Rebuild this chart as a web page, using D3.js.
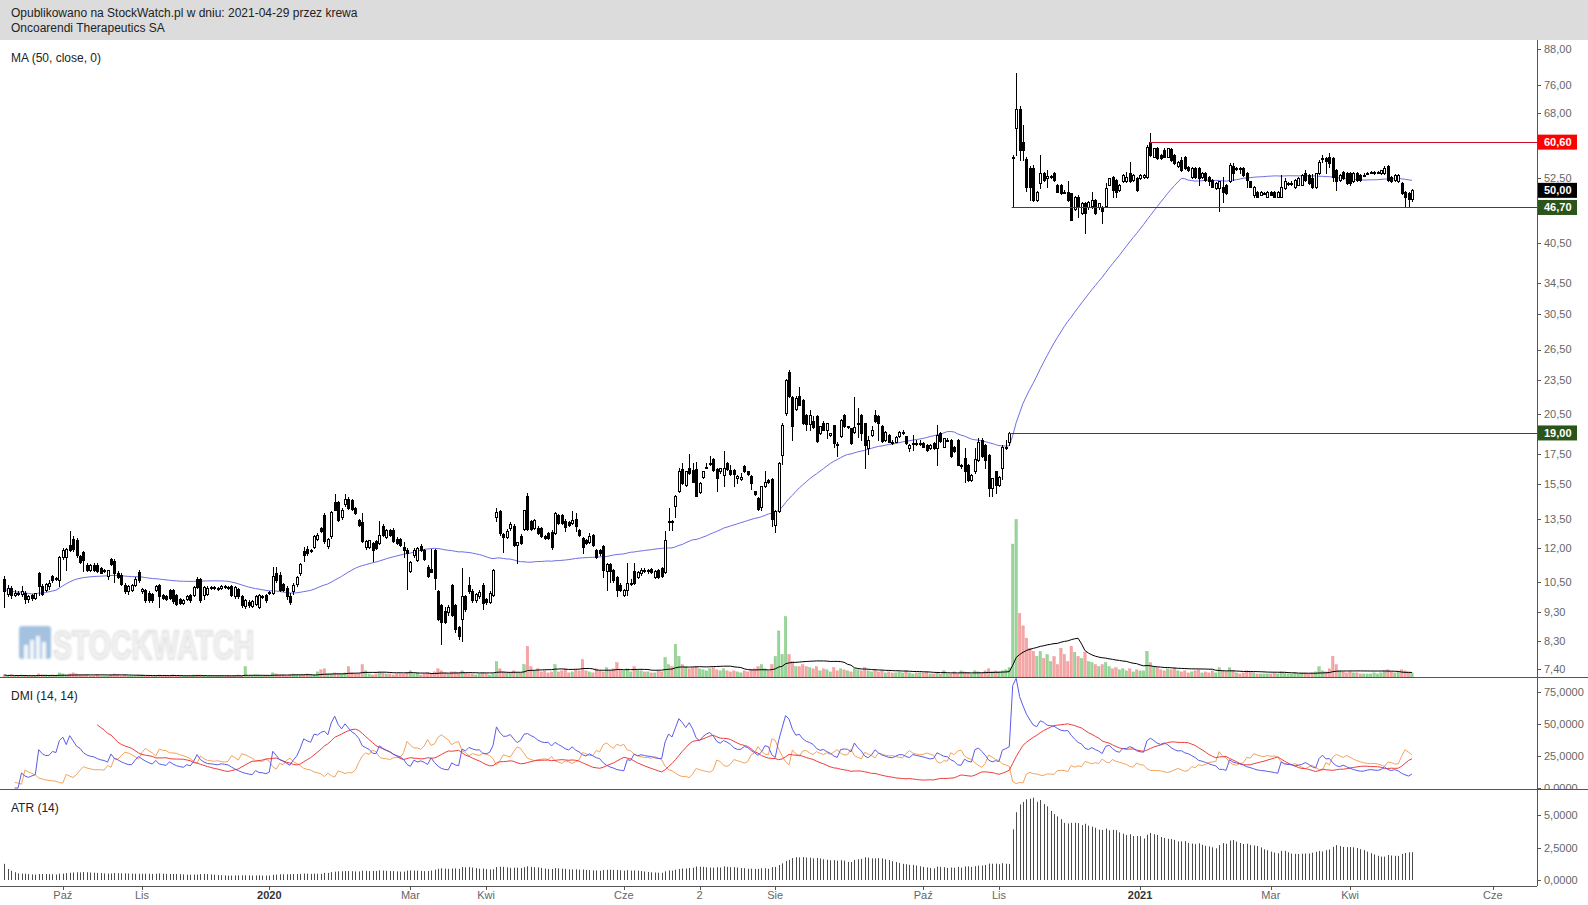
<!DOCTYPE html>
<html lang="pl">
<head>
<meta charset="utf-8">
<title>Oncoarendi Therapeutics SA</title>
<script src="https://cdn.jsdelivr.net/npm/d3@7"></script>
<style>
html,body{margin:0;padding:0;background:#fff;}
svg{display:block;}
text{font-family:"Liberation Sans",Arial,Helvetica,sans-serif;}
</style>
</head>
<body>
<svg id="chart" width="1588" height="905"></svg>
<script>
// ---------------- DATA ----------------
const headerLine1 = "Opublikowano na StockWatch.pl w dniu: 2021-04-29 przez krewa";
const headerLine2 = "Oncoarendi Therapeutics SA";
const panelTitles = ["MA (50, close, 0)", "DMI (14, 14)", "ATR (14)"];

// daily candles [open, high, low, close], one per trading day from 2019-09-06
const candles2019 = [
// Sep
[10.6,10.75,9.5,10.1],[10.0,10.35,9.9,10.25],[10.25,10.3,9.85,9.95],[9.95,10.15,9.9,10.05],[10.05,10.1,9.95,10.0],[10.0,10.3,9.9,10.1],[10.05,10.1,9.65,9.8],[9.8,9.95,9.7,9.9],[9.95,10.0,9.75,9.85],[9.85,10.05,9.8,10.05],[10.85,10.9,9.95,10.3],[10.3,10.4,9.95,10.0],[10.15,10.45,10.1,10.4],[10.3,10.55,10.2,10.45],[10.75,10.8,10.5,10.55],[10.6,10.7,10.55,10.65],[10.55,11.65,10.3,11.6],
// Oct
[11.6,12.0,11.5,11.9],[11.6,12.0,11.0,11.95],[12.15,12.85,11.85,11.9],[12.45,12.6,11.85,11.95],[12.4,12.5,11.6,11.7],[11.65,11.7,11.3,11.35],[11.8,11.85,10.95,11.45],[11.2,11.3,10.95,10.98],[10.98,11.25,10.95,11.2],[11.2,11.3,10.95,11.0],[11.2,11.3,10.9,10.95],[11.1,11.15,10.85,10.88],[10.95,11.05,10.9,11.0],[10.72,11.0,10.6,10.98],[11.5,11.55,11.2,11.25],[11.4,11.5,10.5,10.85],[10.85,10.95,10.65,10.7],[10.8,10.85,10.35,10.4],[10.35,10.45,10.05,10.1],[10.1,10.35,10.0,10.3],[10.15,10.4,10.1,10.35],[10.35,10.7,10.3,10.62],[10.9,11.0,10.5,10.56],
// Nov
[10.1,10.25,10.05,10.2],[10.15,10.2,9.7,9.75],[10.05,10.1,9.7,9.75],[10.0,10.05,9.7,9.75],[10.15,10.35,10.1,10.3],[10.35,10.4,9.5,9.9],[9.95,10.0,9.8,9.85],[9.9,9.95,9.75,9.8],[10.15,10.2,9.8,9.85],[10.15,10.2,9.65,9.72],[9.95,10.0,9.55,9.6],[9.8,9.85,9.6,9.65],[9.65,9.8,9.6,9.75],[9.8,9.95,9.75,9.9],[9.95,10.0,9.7,9.75],[9.95,10.3,9.9,10.28],[10.6,10.7,10.25,10.28],[10.6,10.65,9.7,9.75],[9.95,10.3,9.8,10.28],
// Dec
[10.0,10.3,9.95,10.25],[10.25,10.3,10.2,10.28],[10.28,10.3,10.2,10.22],[10.22,10.28,10.15,10.25],[10.25,10.35,10.2,10.3],[10.3,10.35,10.25,10.28],[10.28,10.32,10.2,10.25],[10.3,10.35,9.9,9.95],[9.9,10.3,9.85,10.28],[10.2,10.25,9.85,9.9],[9.9,9.95,9.5,9.55],[9.52,9.8,9.45,9.75],[9.7,9.75,9.5,9.55],[9.52,9.75,9.5,9.72],[9.6,9.95,9.55,9.9],[9.5,10.0,9.45,9.95],[9.9,9.95,9.85,9.9],[9.95,10.0,9.7,9.75]
];
const candles2020 = [
// Jan
[10.05,10.1,10.0,10.08],[10.05,11.15,10.0,10.75],[10.85,11.15,10.5,10.55],[10.8,10.9,10.1,10.15],[10.4,10.45,10.1,10.15],[10.25,10.3,9.8,9.9],[9.9,10.05,9.6,9.7],[10.1,10.45,10.0,10.35],[10.4,10.75,10.3,10.7],[10.85,11.3,10.8,11.25],[11.85,12.05,11.4,11.7],[11.95,12.1,11.7,11.75],[11.85,11.95,11.8,11.9],[12.05,12.65,12.0,12.58],[12.45,12.75,12.4,12.65],[13.0,13.05,12.8,12.85],[13.7,13.8,12.25,12.35],[12.1,12.5,12.0,12.45],[12.6,13.9,12.5,13.85],[14.45,14.9,13.95,14.0],[14.45,14.5,13.4,13.45],
// Feb
[13.6,14.1,13.5,14.0],[14.3,14.9,14.2,14.6],[14.6,14.7,14.05,14.1],[14.55,14.6,14.0,14.05],[14.1,14.15,13.75,13.8],[13.45,13.5,13.1,13.15],[13.3,13.8,12.3,12.35],[12.05,12.4,11.95,12.35],[12.05,12.4,12.0,12.38],[12.25,12.3,11.4,11.9],[12.35,12.4,11.95,12.0],[12.25,13.4,12.2,12.65],[13.1,13.2,12.6,12.65],[12.55,12.95,12.5,12.9],[12.9,12.95,12.6,12.65],[12.9,13.0,12.3,12.35],[12.45,12.55,12.2,12.25],[12.45,12.5,12.1,12.15],[12.05,12.3,11.6,11.9],[11.9,12.0,10.2,11.75],
// Mar
[10.95,11.4,10.9,11.35],[11.7,12.0,11.6,11.9],[11.45,12.05,11.4,12.0],[12.1,12.2,11.85,11.9],[11.9,11.95,11.45,11.5],[11.15,11.2,10.7,10.72],[11.05,11.95,10.9,10.92],[11.9,11.95,10.2,10.65],[10.1,10.15,9.0,9.05],[9.55,9.6,8.2,8.95],[9.35,9.5,8.9,8.95],[9.3,9.55,9.2,9.5],[10.35,10.4,9.15,9.2],[9.55,9.6,8.6,8.7],[8.75,8.8,8.35,8.45],[9.05,11.1,8.3,9.9],[9.9,9.95,9.35,9.4],[10.35,10.7,10.05,10.1],[10.1,10.2,9.7,9.75],[9.75,10.05,9.7,10.0],[9.9,10.15,9.85,10.08],[10.35,10.45,9.4,9.65],
// Apr
[9.8,9.85,9.6,9.68],[9.7,10.1,9.65,10.05],[9.95,11.05,9.9,11.0],[13.6,14.1,13.4,13.85],[13.9,14.0,12.65,12.75],[12.7,12.75,11.8,12.55],[12.55,12.95,12.5,12.85],[13.0,13.3,12.9,13.2],[13.1,13.2,12.1,12.15],[12.15,12.3,11.3,12.3],[12.6,12.7,12.2,12.25],[12.95,14.0,12.9,13.95],[14.75,14.95,12.9,12.95],[13.4,13.45,12.9,12.95],[13.0,13.5,12.95,13.45],[13.0,13.1,12.7,12.75],[13.0,13.05,12.55,12.6],[12.6,12.65,12.45,12.5],[12.75,12.8,12.45,12.5],[12.8,12.9,11.95,12.05],
// May
[12.75,13.85,12.7,13.8],[13.7,13.75,13.2,13.25],[13.7,13.75,13.2,13.26],[13.35,13.5,12.85,13.05],[13.3,13.4,13.1,13.15],[13.25,13.9,13.2,13.45],[13.5,13.8,12.85,13.1],[12.9,12.95,12.6,12.65],[12.5,12.55,11.75,12.05],[12.4,12.45,12.2,12.25],[12.3,12.75,12.25,12.6],[12.65,12.7,12.1,12.15],[11.9,11.95,11.55,11.6],[11.9,11.95,11.7,11.75],[12.1,12.15,10.7,11.0],[10.95,11.3,10.15,11.25],[11.25,11.3,10.5,10.95],[11.0,11.05,10.5,10.55],[10.7,10.75,9.9,10.15],[10.38,10.45,10.1,10.15],
// Jun
[9.95,10.2,9.9,10.15],[10.15,11.3,9.95,10.45],[10.45,10.6,10.35,10.45],[10.95,11.3,10.4,10.45],[10.7,10.95,10.65,10.9],[10.85,11.1,10.8,11.0],[11.0,11.1,10.9,10.98],[10.98,11.05,10.85,11.0],[11.05,11.1,10.85,10.9],[10.7,11.0,10.65,10.95],[11.0,11.05,10.65,10.7],[11.08,11.15,10.7,10.72],[10.9,12.85,10.85,12.4],[13.35,14.1,12.9,13.4],[13.35,13.45,12.9,13.3],[14.2,14.85,13.6,14.8],[15.05,16.5,15.0,16.3],[16.45,16.85,15.5,15.55],[15.45,16.35,15.4,16.3],[16.5,17.5,16.1,16.2],[16.4,16.85,15.6,15.65],
// Jul
[16.45,16.95,14.75,14.75],[15.0,15.6,14.95,15.55],[15.95,16.35,15.9,16.3],[16.6,16.85,16.5,16.6],[16.8,17.3,16.7,16.85],[17.1,17.2,16.35,16.4],[16.45,16.5,15.1,15.85],[16.3,16.55,16.2,16.5],[16.05,17.65,15.4,16.5],[16.85,16.9,16.4,16.45],[16.4,16.7,16.05,16.1],[16.4,16.45,15.35,16.1],[15.85,16.05,15.55,16.0],[15.8,16.2,15.75,15.95],[16.65,16.7,16.25,16.3],[16.3,16.35,16.05,16.1],[16.0,16.05,15.2,15.55],[15.05,15.1,14.85,14.9],[14.65,14.7,14.0,14.05],[14.15,15.4,13.95,15.35],[15.35,16.3,15.3,15.65],[15.75,15.8,15.55,15.6],[15.8,15.85,13.1,13.5],
// Aug
[13.15,14.0,12.8,13.9],[13.9,16.9,13.85,16.85],[17.4,19.75,16.8,19.6],[20.55,23.6,20.4,23.5],[24.25,24.45,21.9,22.0],[21.9,22.0,18.5,19.5],[20.9,22.0,20.8,21.8],[22.0,22.85,21.2,21.25],[21.7,21.75,19.7,19.75],[20.4,20.5,19.25,19.7],[19.7,20.85,19.25,20.4],[19.9,20.3,19.4,19.45],[20.3,20.45,18.3,18.4],[19.0,19.55,18.95,19.5],[19.75,19.9,19.2,19.25],[19.25,19.8,18.6,19.75],[18.85,19.0,18.8,18.98],[19.6,19.65,18.0,18.25],[18.15,18.3,17.3,18.1],[18.75,20.1,18.7,20.0],[20.4,20.5,19.45,19.5],
// Sep
[19.45,19.55,19.4,19.5],[19.35,19.4,18.2,18.25],[19.1,21.95,19.0,19.45],[19.7,21.0,18.7,19.75],[20.4,20.5,18.5,19.0],[19.75,19.8,16.5,18.1],[17.9,18.75,17.5,18.5],[18.85,19.5,18.8,19.2],[20.4,20.85,19.85,19.9],[20.3,20.4,18.5,19.75],[19.5,19.6,18.3,18.4],[18.5,19.15,18.4,19.1],[18.85,18.9,18.3,18.35],[18.35,18.45,18.2,18.25],[18.35,18.8,18.3,18.7],[18.75,19.15,18.7,19.1],[19.0,19.2,18.95,19.1],[18.75,18.8,18.2,18.25],[17.9,18.2,17.65,18.1],[18.2,18.85,17.75,18.25],[18.25,18.5,18.1,18.2],[18.2,18.45,18.1,18.25],
// Oct
[18.25,18.3,17.95,18.0],[18.1,18.15,17.7,17.75],[17.9,18.15,17.85,18.1],[18.25,18.3,17.85,17.9],[17.9,19.6,16.75,18.85],[19.0,19.1,18.35,18.4],[18.0,18.65,17.95,18.6],[18.5,18.6,18.4,18.5],[18.5,18.55,17.25,17.3],[18.0,18.05,17.6,17.65],[18.5,18.55,16.7,16.75],[16.65,16.8,16.55,16.75],[17.2,17.9,15.65,16.3],[16.75,16.8,15.7,15.75],[15.75,16.1,15.7,16.05],[16.3,17.9,16.2,17.1],[17.05,18.6,17.0,18.35],[18.5,18.6,17.25,17.3],[18.1,18.2,16.5,17.05],[17.4,17.45,14.8,15.25],[15.25,15.9,14.8,15.85],[16.3,16.35,14.95,15.45],
// Nov
[15.45,16.0,15.4,15.95],[16.5,18.1,15.8,17.95],[18.0,18.5,17.8,18.0],[18.3,19.1,18.1,19.0],[56.8,57.6,46.7,57.2],[64.0,79.7,57.6,69.1],[69.1,70.0,56.4,58.7],[60.7,65.0,56.4,58.7],[56.6,57.0,49.8,50.7],[54.6,55.0,48.1,50.7],[54.6,55.3,48.0,48.1],[48.1,49.9,47.9,49.7],[51.4,57.6,50.4,53.5],[53.5,53.8,52.0,52.1],[52.5,54.2,50.7,52.9],[52.8,53.2,52.5,52.9],[53.5,53.9,52.0,52.2],[51.1,51.3,49.6,49.7],[51.0,51.2,49.3,49.4],[49.7,50.0,49.5,49.6],
// Dec
[49.7,51.8,48.0,48.1],[49.4,49.5,44.4,44.4],[46.4,48.9,46.3,48.75],[48.75,49.1,45.0,47.0],[45.6,47.7,45.5,47.6],[47.5,47.8,42.1,45.6],[46.7,47.9,46.5,47.8],[47.0,49.7,46.6,48.1],[48.1,48.4,45.5,45.6],[46.7,47.6,46.5,47.5],[46.7,46.9,43.9,46.1],[47.0,51.4,46.9,50.4],[51.1,52.6,51.0,52.5],[52.8,53.0,48.75,50.0],[52.1,52.3,48.75,49.7],[50.0,51.2,49.8,51.1],[51.8,53.3,51.6,53.2],[51.8,53.9,51.7,52.8],[53.5,56.0,51.7,51.8],[52.1,53.4,52.0,53.2]
];
const candles2021 = [
// Jan
[52.5,52.7,49.9,50.0],[52.5,53.3,52.3,53.2],[52.8,53.4,52.5,53.2],[52.8,59.8,52.5,59.5],[60.6,62.8,57.4,57.6],[57.2,59.3,57.0,59.1],[59.1,59.5,56.7,56.8],[57.6,57.8,56.6,56.8],[58.7,59.1,57.0,57.2],[57.2,59.3,57.0,59.1],[58.9,59.2,56.3,56.4],[57.6,57.8,55.5,55.7],[55.0,56.2,54.8,56.0],[56.4,57.2,54.1,54.2],[57.2,57.4,54.5,54.6],[54.95,55.1,54.1,54.2],[52.8,54.8,52.6,54.6],[54.6,54.8,52.6,52.8],[54.6,54.8,51.1,52.5],
// Feb
[52.8,53.7,52.6,53.5],[53.5,53.7,52.0,52.1],[52.8,53.0,51.1,51.8],[52.1,52.3,50.6,50.7],[50.4,51.6,50.2,51.4],[50.4,52.0,46.1,51.8],[50.7,52.7,47.8,49.7],[51.1,51.3,49.2,49.4],[51.8,55.7,51.6,55.3],[55.1,55.7,52.1,53.5],[54.6,54.9,54.3,54.6],[54.6,54.95,53.5,54.5],[54.6,54.8,53.0,53.2],[53.5,53.7,50.7,52.1],[51.8,52.0,50.6,50.7],[49.1,50.9,48.75,50.7],[49.7,49.9,48.6,48.75],[49.1,49.9,49.0,49.7],[49.4,49.6,49.2,49.4],[48.75,49.9,48.6,49.7],
// Mar
[49.7,49.8,49.0,49.1],[49.7,49.9,48.6,48.75],[48.75,49.9,48.6,49.7],[48.75,53.2,48.6,50.7],[50.4,52.5,50.2,51.8],[51.4,51.7,51.1,51.4],[51.4,51.8,51.1,51.5],[50.7,52.3,50.5,52.1],[51.1,52.8,51.0,52.5],[51.1,53.4,51.0,53.2],[53.5,54.2,52.0,52.1],[53.2,53.3,51.3,51.4],[52.5,53.4,50.4,50.7],[50.7,53.6,50.5,53.5],[53.5,56.4,53.3,56.0],[56.8,57.6,56.0,56.8],[56.8,57.2,53.5,56.2],[57.2,58.0,54.95,55.7],[56.8,57.0,51.8,52.8],[54.2,54.4,50.0,51.8],[52.1,53.4,52.0,53.2],[53.9,54.1,52.4,52.5],[53.5,53.7,51.3,51.4],
// Apr
[53.5,53.7,51.1,51.4],[51.8,53.7,51.6,53.5],[53.5,53.7,52.0,52.1],[53.2,53.3,52.0,52.1],[53.2,53.5,52.9,53.2],[53.5,53.8,53.3,53.5],[53.7,54.0,53.5,53.8],[53.5,54.0,53.3,53.9],[53.7,54.0,53.5,53.7],[53.5,54.3,53.3,54.2],[53.5,55.1,53.3,54.6],[55.1,55.3,51.8,52.1],[52.8,53.0,51.6,51.8],[52.1,53.4,52.0,53.2],[51.8,53.4,51.6,53.2],[51.4,51.6,49.2,49.4],[49.7,49.9,47.0,48.75],[49.4,49.6,46.7,48.4],[48.4,50.3,48.0,50.0]
];

// daily volume (relative units), same days as the candles
const volume2019 = [
2,1,2,1,1,2,1,1,1,1,3,2,2,1,2,1,4,
3,2,3,4,3,2,2,2,1,1,2,1,1,1,2,3,2,1,2,1,1,1,2,
2,1,1,1,1,2,1,1,1,2,1,1,1,1,1,2,2,2,1,
1,1,1,1,1,1,1,1,1,2,1,10,1,1,2,1,1,1
];
const volume2020 = [
1,4,3,2,2,1,2,3,2,2,2,3,2,2,5,7,8,3,3,4,3,
3,4,10,4,3,3,12,6,3,2,3,5,4,3,3,2,3,3,3,4,
6,3,4,2,3,4,3,5,8,6,4,3,5,5,4,6,4,3,3,2,3,4,
3,2,3,15,8,5,4,4,6,4,4,12,30,10,6,8,5,6,4,5,
12,5,6,8,4,5,7,6,17,6,5,4,8,6,5,9,6,8,14,7,
6,8,5,10,7,6,5,5,4,4,6,5,19,12,10,32,20,12,10,8,9,
10,8,7,6,8,9,7,6,8,6,5,6,5,4,6,5,7,8,10,12,8,6,12,
20,45,22,59,22,15,10,10,12,10,9,8,10,6,8,7,5,9,6,8,7,
6,5,8,7,6,9,6,5,7,5,6,4,5,4,4,5,4,6,4,3,4,4,
4,5,3,3,4,3,6,3,3,5,3,6,5,4,3,6,5,4,6,8,5,6,
5,6,7,9,130,154,62,50,38,28,25,20,25,18,22,15,20,12,28,22,
15,30,24,20,18,24,15,14,12,10,12,14,10,8,9,7,8,6,8,5
];
const volume2021 = [
7,6,6,25,14,10,9,7,6,8,7,9,6,5,6,4,5,6,7,
4,5,4,6,4,9,6,5,9,6,4,3,4,6,5,4,3,3,3,3,
3,4,3,5,4,3,3,4,3,4,4,3,4,5,10,6,5,8,20,12,6,5,4,
5,4,4,3,3,3,3,4,3,4,6,7,5,4,5,7,6,5,4
];

const priceTicks = [88, 76, 68, 52.5, 40.5, 34.5, 30.5, 26.5, 23.5, 20.5, 17.5, 15.5, 13.5, 12, 10.5, 9.3, 8.3, 7.4];
const dmiTicks = [0, 25, 50, 75];
const atrTicks = [0, 2.5, 5];
// x-axis labels, positioned by trading-day index
const timeTicks = [
  {at: 17, label: "Paź"}, {at: 40, label: "Lis"}, {at: 77, label: "2020", year: true},
  {at: 118, label: "Mar"}, {at: 140, label: "Kwi"}, {at: 180, label: "Cze"},
  {at: 202, label: "2"}, {at: 224, label: "Sie"}, {at: 267, label: "Paź"},
  {at: 289, label: "Lis"}, {at: 330, label: "2021", year: true}, {at: 368, label: "Mar"},
  {at: 391, label: "Kwi"}, {at: 432.5, label: "Cze"}
];
// drawn horizontal levels: value and the trading-day index where they start
const levels = [
  {value: 60.6, from: 333, kind: "resistance"},
  {value: 46.7, from: 293, kind: "support"},
  {value: 19.0, from: 292, kind: "support"}
];
const lastClose = 50.0;

// ---------------- LAYOUT & STYLE ----------------
const W = 1588, H = 905;
const LAY = {header: 40, axisX: 1537, mainTop: 40, mainBottom: 677.5, dmiBottom: 789.5, xAxisY: 886, x0: 4.3, step: 3.4417};
const COL = {
  header: "#dcdcdc", text: "#222", axis: "#555", tick: "#666",
  ma: "#6d6de3", plusDI: "#5b5be8", minusDI: "#f2a35e", adx: "#ee3b3b",
  volUp: "#9ad59a", volUpStroke: "#74c274", volDown: "#f5a6a6", volDownStroke: "#ee8787", volMa: "#000",
  resistance: "#c8102e", support: "#2b541a", resistanceBadge: "#ff0000", supportBadge: "#2b541a", lastBadge: "#000"
};

// ---------------- PREP ----------------
const candles = candles2019.concat(candles2020, candles2021).map((d, i) => ({i, o: d[0], h: d[1], l: d[2], c: d[3]}));
const volume = volume2019.concat(volume2020, volume2021);
const n = candles.length;
const P = 14;

function sma(vals, p) { const out = []; let s = 0; for (let i = 0; i < vals.length; i++) { s += vals[i]; if (i >= p) s -= vals[i - p]; out.push(s / Math.min(i + 1, p)); } return out; }
// Wilder smoothing; undefined before `start`, running mean for the first `p` values
function rma(vals, p, start = 0) {
  const out = []; let a = 0;
  for (let i = 0; i < vals.length; i++) {
    if (i < start) { out.push(undefined); continue; }
    const k = i - start;
    a = k < p ? (a * k + vals[i]) / (k + 1) : (a * (p - 1) + vals[i]) / p;
    out.push(a);
  }
  return out;
}

const ma50 = sma(candles.map(d => d.c), 50);
const volMa = sma(volume, 20);
const tr = [], pdm = [], mdm = [];
candles.forEach((d, i) => {
  if (i === 0) { tr.push(d.h - d.l); pdm.push(0); mdm.push(0); return; }
  const p = candles[i - 1];
  tr.push(Math.max(d.h - d.l, Math.abs(d.h - p.c), Math.abs(d.l - p.c)));
  const up = d.h - p.h, dn = p.l - d.l;
  pdm.push(up > dn && up > 0 ? up : 0);
  mdm.push(dn > up && dn > 0 ? dn : 0);
});
const atr = rma(tr, P);
const trS = rma(tr, P, 1), sp = rma(pdm, P, 1), sm = rma(mdm, P, 1);
const diStart = 3;
const pdi = sp.map((v, i) => i < diStart ? undefined : 100 * v / trS[i]);
const mdi = sm.map((v, i) => i < diStart ? undefined : 100 * v / trS[i]);
const dx = pdi.map((v, i) => { if (v === undefined) return 0; const s = v + mdi[i]; return s ? 100 * Math.abs(v - mdi[i]) / s : 0; });
// standard ADX: first value = mean of the first P full-period DX values
const adx = dx.map(() => undefined);
{
  const s0 = P; let a = 0;
  for (let i = s0; i < n; i++) {
    const k = i - s0;
    if (k < P) { a = (a * k + dx[i]) / (k + 1); if (k === P - 1) adx[i] = a; }
    else { a = (a * (P - 1) + dx[i]) / P; adx[i] = a; }
  }
}

// ---------------- SCALES ----------------
const x = d3.scaleLinear().domain([0, n - 1]).range([LAY.x0, LAY.x0 + (n - 1) * LAY.step]);
const y = d3.scaleLog().domain([7.4, 88]).range([669.4, 48.6]);
const yVol = d3.scaleLinear().domain([0, d3.max(volume)]).range([677, 519.5]);
const yDmi = d3.scaleLinear().domain([0, 75]).range([788, 691.7]);
const yAtr = d3.scaleLinear().domain([0, 5]).range([880, 815.3]);

const fmt2 = v => d3.format(".2f")(v).replace(".", ",");
const fmt4 = v => d3.format(".4f")(v).replace(".", ",");

// ---------------- DRAW ----------------
const svg = d3.select("#chart");
const defs = svg.append("defs");
defs.append("clipPath").attr("id", "clipMain").append("rect").attr("x", 0).attr("y", LAY.mainTop).attr("width", LAY.axisX).attr("height", LAY.mainBottom - LAY.mainTop);
defs.append("clipPath").attr("id", "clipDmi").append("rect").attr("x", 0).attr("y", LAY.mainBottom).attr("width", LAY.axisX).attr("height", LAY.dmiBottom - LAY.mainBottom);
defs.append("clipPath").attr("id", "clipDmiLabels").append("rect").attr("x", LAY.axisX).attr("y", LAY.mainBottom).attr("width", W - LAY.axisX).attr("height", LAY.dmiBottom - LAY.mainBottom);
const blur = defs.append("filter").attr("id", "wmBlur").attr("x", "-5%").attr("y", "-5%").attr("width", "110%").attr("height", "110%");
blur.append("feGaussianBlur").attr("stdDeviation", 0.8);

svg.append("rect").attr("width", W).attr("height", H).attr("fill", "#fff");

// header
svg.append("rect").attr("x", 0).attr("y", 0).attr("width", W).attr("height", LAY.header).attr("fill", COL.header);
svg.append("text").attr("x", 11).attr("y", 16.5).attr("font-size", 12).attr("fill", COL.text).text(headerLine1);
svg.append("text").attr("x", 11).attr("y", 32).attr("font-size", 12).attr("fill", COL.text).text(headerLine2);

// ---- main panel
const main = svg.append("g").attr("clip-path", "url(#clipMain)");

// watermark
const wm = main.append("g").attr("filter", "url(#wmBlur)").attr("opacity", 0.7);
wm.append("rect").attr("x", 19).attr("y", 626).attr("width", 32).attr("height", 33).attr("rx", 3).attr("fill", "#7ea9d4");
[[24, 645, 14], [30, 640, 19], [36, 636, 23], [42, 642, 17]].forEach(b =>
  wm.append("rect").attr("x", b[0]).attr("y", b[1]).attr("width", 4).attr("height", b[2]).attr("fill", "#eef4fa"));
wm.append("text").attr("x", 53).attr("y", 659).attr("font-size", 41).attr("font-weight", "bold")
  .attr("textLength", 201).attr("lengthAdjust", "spacingAndGlyphs")
  .attr("fill", "#f0f0f0").attr("stroke", "#c9c9c9").attr("stroke-width", 1.5).text("STOCKWATCH");

// volume bars
main.append("g").selectAll("rect").data(candles).join("rect")
  .attr("x", d => x(d.i) - 1.2).attr("width", 2.4)
  .attr("y", d => yVol(volume[d.i]))
  .attr("height", d => Math.max(0.6, yVol(0) - yVol(volume[d.i])))
  .attr("fill", d => d.c >= d.o ? COL.volUp : COL.volDown)
  .attr("stroke", d => d.c >= d.o ? COL.volUpStroke : COL.volDownStroke).attr("stroke-width", 0.4);

// volume moving average
main.append("path").datum(volMa)
  .attr("d", d3.line().x((v, i) => x(i)).y(v => yVol(v)))
  .attr("fill", "none").attr("stroke", COL.volMa).attr("stroke-width", 1);

// price moving average
main.append("path").datum(ma50)
  .attr("d", d3.line().x((v, i) => x(i)).y(v => y(v)))
  .attr("fill", "none").attr("stroke", COL.ma).attr("stroke-width", 1);

// candles
const cg = main.append("g");
cg.selectAll("line").data(candles).join("line")
  .attr("x1", d => Math.round(x(d.i)) + 0.5).attr("x2", d => Math.round(x(d.i)) + 0.5)
  .attr("y1", d => Math.round(y(d.h))).attr("y2", d => Math.round(y(d.l)) + 1)
  .attr("stroke", "#000").attr("stroke-width", 1);
cg.selectAll("rect").data(candles).join("rect")
  .attr("x", d => Math.round(x(d.i)) - 0.5)
  .attr("y", d => Math.round(y(Math.max(d.o, d.c))) + 0.5)
  .attr("width", 2)
  .attr("height", d => Math.max(1, Math.round(y(Math.min(d.o, d.c))) - Math.round(y(Math.max(d.o, d.c)))))
  .attr("fill", d => d.c >= d.o ? "#fff" : "#000")
  .attr("stroke", "#000").attr("stroke-width", 1);

// horizontal levels
main.append("g").selectAll("line").data(levels).join("line")
  .attr("x1", d => x(d.from) - 1).attr("x2", LAY.axisX)
  .attr("y1", d => Math.round(y(d.value)) + 0.5).attr("y2", d => Math.round(y(d.value)) + 0.5)
  .attr("stroke", d => d.kind === "resistance" ? COL.resistance : COL.support).attr("stroke-width", 1);

// ---- DMI panel
const dmiG = svg.append("g").attr("clip-path", "url(#clipDmi)");
const dmiLine = d3.line().defined(v => v !== undefined).x((v, i) => x(i)).y(v => yDmi(v));
[[mdi, COL.minusDI], [adx, COL.adx], [pdi, COL.plusDI]].forEach(([s, c]) => {
  dmiG.append("path").datum(s).attr("d", dmiLine).attr("fill", "none").attr("stroke", c).attr("stroke-width", 1);
});

// ---- ATR panel
svg.append("g").selectAll("line").data(atr).join("line")
  .attr("x1", (v, i) => Math.round(x(i)) + 0.5).attr("x2", (v, i) => Math.round(x(i)) + 0.5)
  .attr("y1", yAtr(0)).attr("y2", v => yAtr(v))
  .attr("stroke", "#4a4a4a").attr("stroke-width", 1);

// ---- separators and axes
const axisG = svg.append("g").attr("stroke", COL.axis).attr("stroke-width", 1).attr("shape-rendering", "crispEdges");
axisG.append("line").attr("x1", 0).attr("x2", W).attr("y1", LAY.mainBottom).attr("y2", LAY.mainBottom);
axisG.append("line").attr("x1", 0).attr("x2", W).attr("y1", LAY.dmiBottom).attr("y2", LAY.dmiBottom);
axisG.append("line").attr("x1", 0).attr("x2", LAY.axisX).attr("y1", LAY.xAxisY).attr("y2", LAY.xAxisY);
axisG.append("line").attr("x1", LAY.axisX + 0.5).attr("x2", LAY.axisX + 0.5).attr("y1", LAY.mainTop).attr("y2", LAY.xAxisY);

// panel titles
svg.append("text").attr("x", 11).attr("y", 62).attr("font-size", 12).attr("fill", COL.text).text(panelTitles[0]);
svg.append("text").attr("x", 11).attr("y", 700).attr("font-size", 12).attr("fill", COL.text).text(panelTitles[1]);
svg.append("text").attr("x", 11).attr("y", 812).attr("font-size", 12).attr("fill", COL.text).text(panelTitles[2]);

// right axis ticks
function rightTicks(g, ticks, scale, fmt) {
  g.selectAll("line").data(ticks).join("line")
    .attr("x1", LAY.axisX).attr("x2", LAY.axisX + 4)
    .attr("y1", d => Math.round(scale(d)) + 0.5).attr("y2", d => Math.round(scale(d)) + 0.5)
    .attr("stroke", COL.axis).attr("stroke-width", 1);
  g.selectAll("text").data(ticks).join("text")
    .attr("x", LAY.axisX + 7).attr("y", d => scale(d)).attr("dy", "0.36em")
    .attr("font-size", 11).attr("fill", COL.tick).text(fmt);
}
rightTicks(svg.append("g"), priceTicks, y, fmt2);
rightTicks(svg.append("g").attr("clip-path", "url(#clipDmiLabels)"), dmiTicks, yDmi, fmt4);
rightTicks(svg.append("g"), atrTicks, yAtr, fmt4);

// badges
const badges = levels.map(d => ({value: d.value, fill: d.kind === "resistance" ? COL.resistanceBadge : COL.supportBadge}))
  .concat([{value: lastClose, fill: COL.lastBadge}]);
const bg = svg.append("g").selectAll("g").data(badges).join("g");
bg.append("rect").attr("x", LAY.axisX + 1).attr("y", d => y(d.value) - 7.5).attr("width", 39).attr("height", 15).attr("fill", d => d.fill);
bg.append("text").attr("x", LAY.axisX + 7).attr("y", d => y(d.value)).attr("dy", "0.36em")
  .attr("font-size", 11).attr("font-weight", "bold").attr("fill", "#fff").text(d => fmt2(d.value));

// bottom time axis
const tg = svg.append("g");
tg.selectAll("line").data(timeTicks).join("line")
  .attr("x1", d => Math.round(x(d.at)) + 0.5).attr("x2", d => Math.round(x(d.at)) + 0.5)
  .attr("y1", LAY.xAxisY).attr("y2", LAY.xAxisY + 4)
  .attr("stroke", COL.axis).attr("stroke-width", 1);
tg.selectAll("text").data(timeTicks).join("text")
  .attr("x", d => x(d.at)).attr("y", 899).attr("text-anchor", "middle")
  .attr("font-size", 11).attr("font-weight", d => d.year ? "bold" : "normal")
  .attr("fill", d => d.year ? "#333" : COL.tick).text(d => d.label);
</script>
</body>
</html>
